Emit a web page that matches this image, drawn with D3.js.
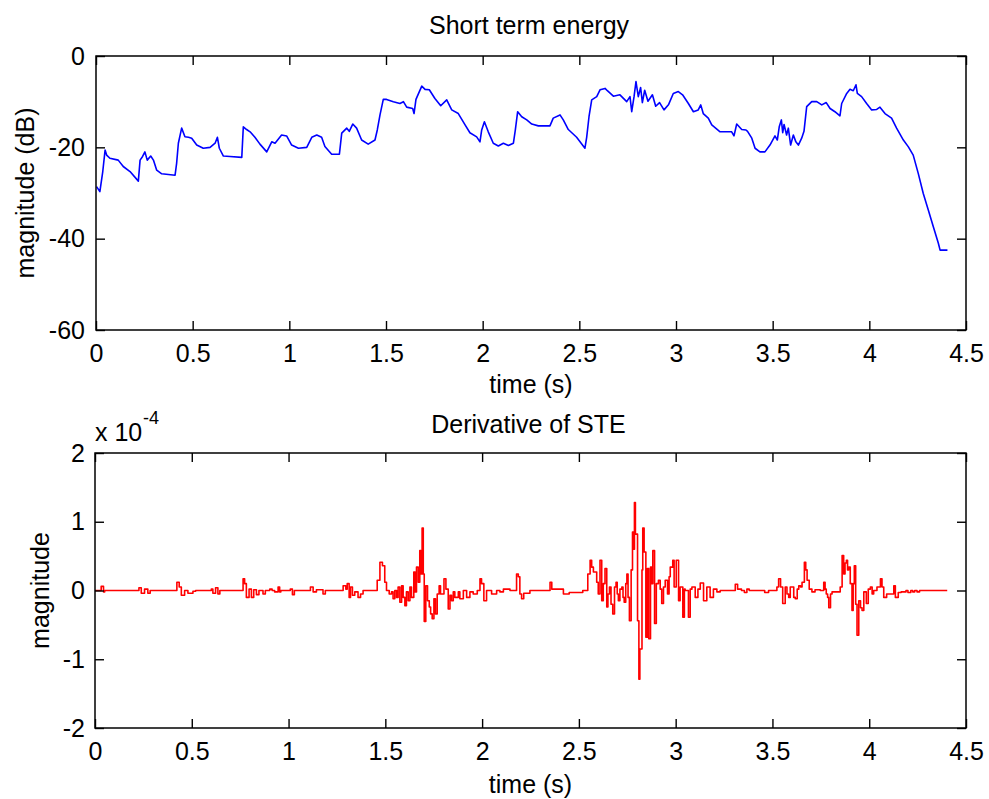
<!DOCTYPE html>
<html>
<head>
<meta charset="utf-8">
<script src="https://cdn.jsdelivr.net/npm/d3@7"></script>
<style>
  html, body { margin: 0; padding: 0; background: #fff; }
  svg { display: block; }
  text { font-family: "Liberation Sans", Arial, Helvetica, sans-serif; fill: #000; }
</style>
</head>
<body>
<svg id="fig" width="989" height="799"></svg>
<script>
// Short term energy of the speech signal, [time (s), magnitude (dB)]
const steSamples = [
  [0.003,-28.6],[0.02,-29.7],[0.035,-25.3],[0.047,-20.6],[0.055,-21.7],[0.072,-22.4],[0.115,-22.8],
  [0.141,-24.2],[0.176,-25.3],[0.219,-27.4],[0.228,-22.8],[0.241,-22.0],[0.253,-21.0],[0.265,-22.8],
  [0.283,-21.9],[0.297,-22.8],[0.314,-25.0],[0.34,-25.8],[0.409,-26.1],[0.417,-23.5],[0.426,-19.1],
  [0.443,-15.8],[0.46,-17.7],[0.478,-17.8],[0.495,-18.0],[0.521,-19.5],[0.555,-20.2],[0.59,-20.0],
  [0.616,-19.1],[0.628,-17.8],[0.638,-20.2],[0.659,-21.9],[0.693,-22.0],[0.754,-22.2],[0.762,-15.5],
  [0.779,-16.1],[0.797,-16.6],[0.822,-17.8],[0.848,-19.3],[0.883,-21.0],[0.909,-18.8],[0.926,-19.1],
  [0.96,-17.3],[0.986,-17.5],[1.012,-19.5],[1.047,-20.2],[1.09,-20.0],[1.116,-17.8],[1.142,-17.3],
  [1.167,-17.8],[1.184,-19.8],[1.219,-21.5],[1.259,-21.5],[1.271,-16.9],[1.297,-15.8],[1.31,-16.5],
  [1.328,-14.9],[1.348,-15.8],[1.374,-18.4],[1.408,-19.3],[1.443,-18.4],[1.455,-16.2],[1.469,-12.9],
  [1.486,-9.5],[1.503,-9.5],[1.538,-10.0],[1.572,-10.4],[1.59,-10.0],[1.607,-11.2],[1.638,-11.5],
  [1.645,-12.6],[1.655,-9.5],[1.685,-6.6],[1.702,-7.3],[1.724,-7.4],[1.753,-9.3],[1.783,-10.9],
  [1.814,-9.6],[1.84,-11.8],[1.874,-12.6],[1.909,-15.1],[1.934,-16.8],[1.969,-17.7],[1.986,-18.8],
  [1.995,-16.2],[2.009,-14.4],[2.029,-16.6],[2.055,-19.1],[2.081,-19.7],[2.107,-19.1],[2.133,-19.6],
  [2.159,-19.1],[2.169,-16.2],[2.181,-12.2],[2.202,-13.3],[2.228,-14.0],[2.254,-14.9],[2.288,-15.3],
  [2.348,-15.3],[2.365,-13.6],[2.4,-12.9],[2.417,-14.0],[2.443,-16.1],[2.486,-17.8],[2.529,-20.2],
  [2.538,-17.8],[2.55,-13.3],[2.564,-9.6],[2.59,-8.9],[2.607,-7.4],[2.633,-7.1],[2.645,-7.6],
  [2.676,-8.8],[2.71,-8.5],[2.745,-10.0],[2.762,-8.9],[2.771,-12.2],[2.783,-8.9],[2.793,-5.6],
  [2.805,-8.9],[2.817,-6.9],[2.826,-10.2],[2.838,-7.5],[2.855,-9.9],[2.878,-8.5],[2.895,-11.0],
  [2.915,-10.2],[2.938,-11.8],[2.962,-10.6],[2.986,-8.2],[3.012,-7.8],[3.034,-8.5],[3.064,-10.4],
  [3.09,-12.2],[3.115,-11.8],[3.128,-10.7],[3.141,-12.6],[3.167,-13.6],[3.185,-15.1],[3.228,-16.6],
  [3.288,-16.6],[3.3,-17.5],[3.314,-14.9],[3.34,-16.1],[3.362,-16.2],[3.37,-16.5],[3.392,-18.0],
  [3.409,-20.2],[3.434,-21.0],[3.46,-21.0],[3.486,-19.5],[3.512,-17.5],[3.524,-18.4],[3.534,-15.5],
  [3.545,-14.0],[3.552,-16.8],[3.559,-15.0],[3.572,-17.3],[3.581,-15.8],[3.593,-19.5],[3.607,-17.3],
  [3.62,-18.8],[3.633,-19.5],[3.65,-18.0],[3.662,-16.5],[3.676,-11.1],[3.702,-10.0],[3.728,-10.0],
  [3.754,-10.7],[3.777,-10.2],[3.797,-11.5],[3.822,-12.2],[3.848,-13.1],[3.857,-10.4],[3.883,-8.2],
  [3.9,-7.3],[3.917,-7.6],[3.931,-6.3],[3.938,-8.2],[3.96,-8.9],[3.986,-10.4],[4.012,-11.8],
  [4.038,-11.7],[4.055,-11.2],[4.081,-12.6],[4.115,-13.6],[4.141,-15.8],[4.176,-18.4],[4.202,-19.9],
  [4.227,-21.7],[4.253,-25.7],[4.279,-30.1],[4.305,-33.7],[4.331,-37.4],[4.357,-41.0],[4.366,-42.5],
  [4.404,-42.5]
];

// Derivative of the short term energy, [time (s), value in units of 1e-4]
const dsteSamples = [
  [0,0],[0.025,0],[0.032,0.06],[0.044,-0.02],[0.05,0],
  [0.22,0],[0.227,0.04],[0.239,-0.04],[0.256,0.02],[0.273,-0.04],[0.285,0],
  [0.41,0],[0.423,0.12],[0.435,0.05],[0.446,-0.07],[0.463,0],[0.48,-0.04],[0.506,-0.01],[0.52,0],
  [0.595,0],[0.601,0.02],[0.609,-0.04],[0.623,0.04],[0.635,-0.05],[0.645,0],
  [0.755,0],[0.765,0.17],[0.773,0.1],[0.782,-0.1],[0.796,0.02],[0.808,-0.1],[0.82,0.01],[0.834,-0.06],
  [0.847,0],[0.868,-0.05],[0.88,0],[0.903,0.02],[0.915,0],[0.928,-0.02],[0.946,0.05],[0.954,-0.02],[0.96,0],
  [1.0,0],[1.009,0.02],[1.02,-0.06],[1.03,0],
  [1.105,0],[1.113,0.05],[1.127,-0.02],[1.144,0.01],[1.178,-0.05],[1.19,0],
  [1.275,0],[1.282,0.07],[1.296,0.02],[1.303,0.1],[1.313,-0.1],[1.32,0.05],[1.33,-0.07],[1.342,-0.02],
  [1.359,-0.1],[1.372,-0.05],[1.385,0],
  [1.45,0],[1.458,0.15],[1.472,0.41],[1.485,0.36],[1.497,0.12],[1.506,0],[1.52,-0.05],[1.532,-0.02],
  [1.54,-0.12],[1.549,0],[1.558,-0.1],[1.566,0.05],[1.575,-0.17],[1.584,0.07],[1.592,-0.1],[1.601,-0.22],
  [1.609,-0.02],[1.618,-0.15],[1.627,0.05],[1.635,-0.1],[1.647,0.27],[1.654,-0.02],[1.661,0.34],
  [1.67,0.12],[1.678,0.58],[1.684,0.24],[1.69,0.91],[1.696,0.24],[1.701,-0.45],[1.709,0.07],
  [1.718,-0.15],[1.727,-0.24],[1.734,-0.34],[1.742,-0.41],[1.751,-0.12],[1.759,-0.34],[1.768,-0.05],
  [1.778,0.07],[1.785,-0.05],[1.803,0.17],[1.813,0.02],[1.825,-0.27],[1.834,-0.07],[1.842,-0.15],
  [1.851,-0.02],[1.859,-0.1],[1.877,-0.02],[1.885,-0.12],[1.903,0],[1.92,-0.1],[1.937,-0.02],
  [1.954,-0.05],[1.975,0],[1.989,0.17],[1.997,0.1],[2.009,-0.15],[2.023,0],[2.049,-0.05],[2.075,0],
  [2.092,-0.02],[2.11,0.02],[2.144,0],
  [2.165,0],[2.178,0.24],[2.187,0.2],[2.195,-0.05],[2.204,-0.12],[2.215,-0.04],[2.247,0],
  [2.34,0],[2.351,0.12],[2.36,0.02],[2.385,0.02],[2.42,-0.05],[2.45,-0.03],[2.48,-0.03],[2.52,0],[2.541,0],
  [2.546,0.24],[2.558,0.44],[2.566,0.34],[2.575,0.27],[2.584,0.27],[2.592,0.12],[2.6,-0.05],[2.609,0.44],
  [2.618,-0.15],[2.626,0.1],[2.635,0.32],[2.644,-0.24],[2.65,-0.05],[2.658,0.05],[2.666,-0.2],
  [2.675,-0.34],[2.684,0.05],[2.692,0.12],[2.698,-0.05],[2.704,-0.15],[2.712,0.02],[2.722,0.05],
  [2.728,-0.1],[2.734,-0.17],[2.742,0.1],[2.748,0.24],[2.754,-0.1],[2.761,-0.44],[2.77,0.3],
  [2.777,0.85],[2.783,0.6],[2.787,1.28],[2.792,0.82],[2.796,0.82],[2.803,-0.44],[2.81,-1.29],
  [2.815,-0.85],[2.82,-0.85],[2.826,0.3],[2.83,0.91],[2.837,0.56],[2.846,-0.68],[2.854,0.32],
  [2.861,-0.7],[2.87,0.34],[2.876,0.1],[2.882,0.58],[2.891,-0.48],[2.9,0.1],[2.911,0.15],[2.92,0.02],
  [2.928,-0.19],[2.937,0.05],[2.946,0.15],[2.958,-0.05],[2.966,0.2],[2.972,0.34],[2.985,0.44],
  [2.992,0.05],[3.003,0.44],[3.015,-0.15],[3.023,0.05],[3.037,-0.39],[3.045,0.02],[3.049,0],
  [3.066,-0.39],[3.075,0.02],[3.084,0.05],[3.101,-0.1],[3.115,0.02],[3.127,0.11],[3.144,-0.15],
  [3.161,0.05],[3.178,-0.1],[3.195,0.02],[3.213,-0.02],[3.23,0],[3.295,0],[3.308,0.09],[3.32,0.02],
  [3.34,0],[3.355,-0.03],[3.368,0.02],[3.38,0],[3.44,0],[3.46,-0.03],[3.48,0],[3.515,0],
  [3.523,0.05],[3.532,0.17],[3.542,0.05],[3.553,-0.19],[3.566,0.05],[3.575,-0.05],[3.584,-0.1],
  [3.592,0.05],[3.601,0.05],[3.61,-0.1],[3.618,-0.12],[3.628,0.02],[3.636,0.07],[3.645,0.05],
  [3.653,0.12],[3.665,0.41],[3.672,0.3],[3.679,0.15],[3.69,0.02],[3.704,-0.02],[3.72,0.01],[3.747,0],
  [3.765,0.12],[3.772,0.02],[3.778,-0.05],[3.785,-0.1],[3.791,-0.25],[3.8,-0.05],[3.808,-0.02],
  [3.842,-0.02],[3.85,0.05],[3.86,0.51],[3.868,0.24],[3.875,0.4],[3.882,0.44],[3.888,0.3],[3.894,0.34],
  [3.902,0.1],[3.911,-0.29],[3.917,0.1],[3.923,0.36],[3.93,-0.2],[3.937,-0.65],[3.946,-0.15],
  [3.955,-0.25],[3.963,-0.29],[3.972,-0.02],[3.985,-0.19],[3.995,0.02],[4.006,0.05],[4.015,-0.05],
  [4.023,0],[4.04,0.05],[4.058,0.17],[4.066,0.05],[4.075,-0.1],[4.09,-0.05],[4.11,-0.05],[4.127,0.07],
  [4.135,-0.1],[4.15,-0.03],[4.165,-0.02],[4.178,-0.02],[4.19,0],[4.2,-0.03],[4.215,0],[4.225,-0.02],
  [4.235,0],[4.247,-0.02],[4.26,0],[4.403,0]
];

// Tick values for both panels
const timeTicks = [0, 0.5, 1, 1.5, 2, 2.5, 3, 3.5, 4, 4.5];
const steTicks = [0, -20, -40, -60];
const dsteTicks = [2, 1, 0, -1, -2];

const svg = d3.select("#fig");
svg.append("rect").attr("width", 989).attr("height", 799).attr("fill", "#fff");

const FONT = 25;
const fmt = d => String(d);

function panel(opts) {
  const { left, right, top, bottom, yDomain, yTicks, data, color, curve, title, titleY, ylabel, ylabelX, xlabelY } = opts;
  const x = d3.scaleLinear().domain([0, 4.5]).range([left, right]);
  const y = d3.scaleLinear().domain(yDomain).range([bottom, top]);
  const g = svg.append("g");

  // data line
  g.append("path")
    .datum(data)
    .attr("fill", "none")
    .attr("stroke", color)
    .attr("stroke-width", 1.6)
    .attr("stroke-linejoin", "round")
    .attr("d", d3.line().curve(curve).x(d => x(d[0])).y(d => y(d[1])));

  // inward ticks on all four sides
  const tick = 9;
  const bottomAxis = g.append("g").attr("transform", `translate(0,${bottom})`)
    .call(d3.axisBottom(x).tickValues(timeTicks).tickFormat(fmt).tickSizeInner(-tick).tickSizeOuter(0).tickPadding(14));
  const topAxis = g.append("g").attr("transform", `translate(0,${top})`)
    .call(d3.axisTop(x).tickValues(timeTicks).tickFormat("").tickSizeInner(-tick).tickSizeOuter(0));
  const leftAxis = g.append("g").attr("transform", `translate(${left},0)`)
    .call(d3.axisLeft(y).tickValues(yTicks).tickFormat(fmt).tickSizeInner(-tick).tickSizeOuter(0).tickPadding(left - 85));
  const rightAxis = g.append("g").attr("transform", `translate(${right},0)`)
    .call(d3.axisRight(y).tickValues(yTicks).tickFormat("").tickSizeInner(-tick).tickSizeOuter(0));

  [bottomAxis, topAxis, leftAxis, rightAxis].forEach(a => {
    a.select(".domain").remove();
    a.selectAll(".tick line").attr("stroke", "#000").attr("stroke-width", 1.4);
    a.selectAll(".tick text").attr("font-size", FONT).attr("fill", "#000")
      .style("font-family", '"Liberation Sans", Arial, sans-serif');
  });

  // axes box
  g.append("rect")
    .attr("x", left).attr("y", top)
    .attr("width", right - left).attr("height", bottom - top)
    .attr("fill", "none").attr("stroke", "#000").attr("stroke-width", 1.5);

  // title
  g.append("text").attr("x", (left + right) / 2 - 2).attr("y", titleY)
    .attr("text-anchor", "middle").attr("font-size", FONT).text(title);

  // x label
  g.append("text").attr("x", (left + right) / 2).attr("y", xlabelY)
    .attr("text-anchor", "middle").attr("font-size", FONT).text("time (s)");

  // y label
  g.append("text")
    .attr("transform", `translate(${ylabelX},${(top + bottom) / 2}) rotate(-90)`)
    .attr("text-anchor", "middle").attr("dy", "0.35em")
    .attr("font-size", FONT).text(ylabel);

  return { x, y, g };
}

panel({
  left: 96, right: 966, top: 56, bottom: 330,
  yDomain: [-60, 0], yTicks: steTicks,
  data: steSamples, color: "#0000ff", curve: d3.curveLinear,
  title: "Short term energy", titleY: 34,
  ylabel: "magnitude (dB)", ylabelX: 25, xlabelY: 393
});

const lower = panel({
  left: 95, right: 966, top: 453, bottom: 728,
  yDomain: [-2, 2], yTicks: dsteTicks,
  data: dsteSamples, color: "#ff0000", curve: d3.curveStepAfter,
  title: "Derivative of STE", titleY: 433,
  ylabel: "magnitude", ylabelX: 40, xlabelY: 793
});

// exponent label of the lower y axis
lower.g.append("text").attr("x", 95).attr("y", 441).attr("font-size", FONT).text("x 10");
lower.g.append("text").attr("x", 143).attr("y", 424).attr("font-size", 18).text("-4");
</script>
</body>
</html>
